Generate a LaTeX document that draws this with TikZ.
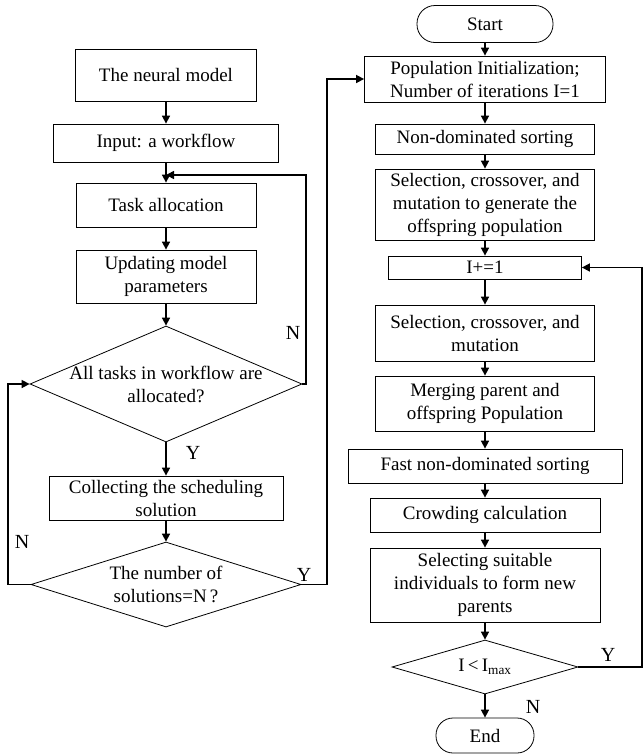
\documentclass[tikz,border=0pt]{standalone}
\usepackage{fontspec}
\setmainfont{Liberation Serif}
\usetikzlibrary{arrows.meta,shapes.geometric}
\begin{document}
\begin{tikzpicture}[x=1pt,y=-1pt,
  txt/.style={font=\fontsize{19}{23}\selectfont},
  box/.style={draw, line width=0.8pt, align=center, inner sep=0pt, txt},
  dia/.style={draw, diamond, line width=0.8pt, inner sep=0pt},
  term/.style={box},
  conn/.style={line width=1.6pt, -{Triangle[length=8pt,width=8pt]}},
  plain/.style={line width=1.6pt},
  yn/.style={font=\fontsize{20}{24}\selectfont, inner sep=0pt}]
\useasboundingbox (0,0) rectangle (644,756);

% left column
\node[box, minimum width=181pt, minimum height=52pt] (n1) at (166,75) {The neural model};
\node[box, minimum width=225pt, minimum height=38pt] (n2) at (166,143) {Input: a workflow};
\node[box, minimum width=180pt, minimum height=44pt] (n3) at (166,205) {Task allocation};
\node[box, minimum width=180pt, minimum height=53pt] (n4) at (166,276.5) {Updating model\\parameters};
\node[dia, minimum width=272pt, minimum height=116pt,
  label={[txt, align=center]center:All tasks in workflow are\\allocated?}] (d1) at (166,384) {};
\node[box, minimum width=234pt, minimum height=44pt] (n5) at (166,498) {Collecting the scheduling\\solution};
\node[dia, minimum width=270pt, minimum height=85pt,
  label={[txt, align=center]center:The number of\\solutions=N\,?}] (d2) at (166,584.5) {};

% right column
\node[term, minimum width=136pt, minimum height=37pt, rounded corners=18pt] (st) at (485,24) {Start};
\node[box, minimum width=241pt, minimum height=46pt] (p1) at (485,79) {Population Initialization;\\Number of iterations I=1};
\node[box, minimum width=219pt, minimum height=30pt] (p2) at (485,139) {Non-dominated sorting};
\node[box, minimum width=219pt, minimum height=71pt] (p3) at (485,204.5) {Selection, crossover, and\\mutation to generate the\\offspring population};
\node[box, minimum width=193pt, minimum height=23pt] (p4) at (485,267.5) {I+=1};
\node[box, minimum width=219pt, minimum height=56pt] (p5) at (485,333) {Selection, crossover, and\\mutation};
\node[box, minimum width=219pt, minimum height=55pt] (p6) at (485,403.5) {Merging parent and\\offspring Population};
\node[box, minimum width=274pt, minimum height=34pt] (p7) at (485,466) {Fast non-dominated sorting};
\node[box, minimum width=230pt, minimum height=34pt] (p8) at (485,515) {Crowding calculation};
\node[box, minimum width=230pt, minimum height=74pt] (p9) at (485,585) {Selecting suitable\\individuals to form new\\parents};
\node[dia, minimum width=186pt, minimum height=54pt,
  label={[txt]center:I\,<\,I\textsubscript{max}}] (d3) at (485,667) {};
\node[term, minimum width=98pt, minimum height=35pt, rounded corners=17pt] (en) at (485,735.5) {End};

% helper coordinates
\coordinate (j1) at (166,175);
\coordinate (rx) at (306,175);
\coordinate (lx) at (8,384);
\coordinate (mx) at (327,79);
\coordinate (ex) at (642,267.5);

% left connectors
\draw[conn] (n1) -- (n2);
\draw[conn] (n2) -- (n3);
\draw[conn] (n3) -- (n4);
\draw[conn] (n4) -- (d1.north);
\draw[conn] (d1.south) -- (n5);
\draw[conn] (n5) -- (d2.north);
\draw[conn] (d1.east) -| (rx) -- (j1);
\draw[conn] (d2.west) -| (lx) -- (d1.west);
\draw[conn] (d2.east) -| (mx) -- (p1.west);

% right connectors
\draw[conn] (st) -- (p1);
\draw[conn] (p1) -- (p2);
\draw[conn] (p2) -- (p3);
\draw[conn] (p3) -- (p4);
\draw[conn] (p4) -- (p5);
\draw[conn] (p5) -- (p6);
\draw[conn] (p6) -- (p7);
\draw[conn] (p7) -- (p8);
\draw[conn] (p8) -- (p9);
\draw[conn] (p9) -- (d3.north);
\draw[conn] (d3.south) -- (en);
\draw[conn] (d3.east) -| (ex) -- (p4.east);

% labels
\node[yn] (lN1) at (293,333) {N};
\node[yn] (lY1) at (193,453) {Y};
\node[yn] (lN2) at (22,542) {N};
\node[yn] (lY2) at (304,575) {Y};
\node[yn] (lY3) at (608,655) {Y};
\node[yn] (lN3) at (533,707) {N};
\end{tikzpicture}
\end{document}
